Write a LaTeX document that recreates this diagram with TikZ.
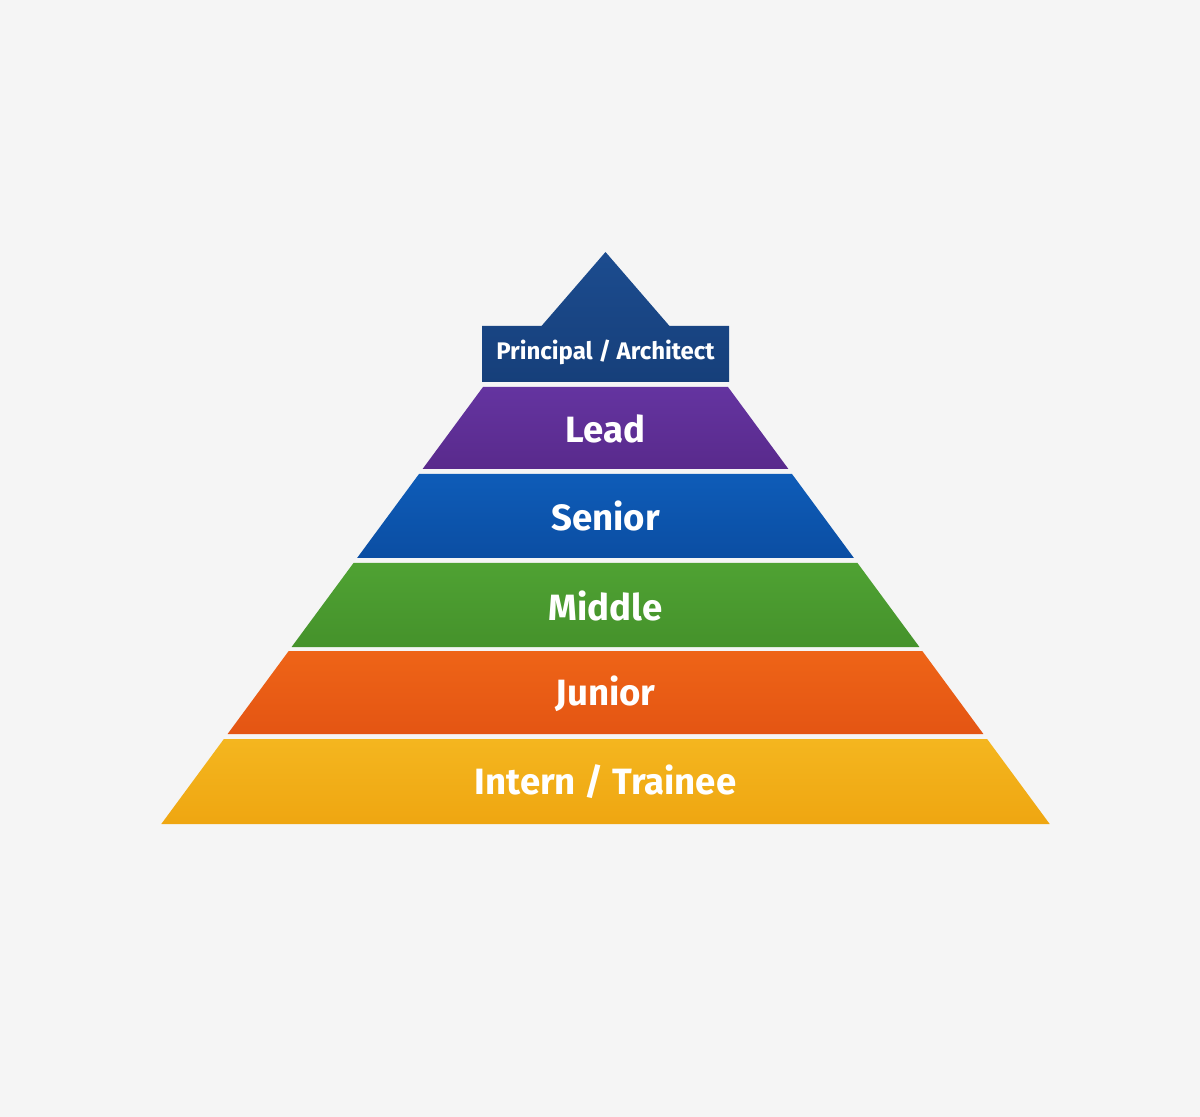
\documentclass[tikz,border=0pt]{standalone}
\usepackage{fontspec}
\setmainfont{Fira Sans}
\definecolor{bg}{HTML}{F5F5F5}
\definecolor{prTop}{HTML}{1C4C8F}\definecolor{prBot}{HTML}{163F7A}
\definecolor{leTop}{HTML}{6434A0}\definecolor{leBot}{HTML}{592A8C}
\definecolor{seTop}{HTML}{0E5CB8}\definecolor{seBot}{HTML}{0B4EA3}
\definecolor{miTop}{HTML}{4FA233}\definecolor{miBot}{HTML}{45922B}
\definecolor{juTop}{HTML}{EE6417}\definecolor{juBot}{HTML}{E45513}
\definecolor{inTop}{HTML}{F4B61F}\definecolor{inBot}{HTML}{EFA611}
\tikzset{
  lbl/.style={text=white, font=\bfseries\fontsize{18.3}{22}\selectfont, inner sep=0pt, anchor=center},
  toplbl/.style={text=white, font=\bfseries\fontsize{12}{15}\selectfont, inner sep=0pt, anchor=center},
}
\begin{document}
\begin{tikzpicture}[x=0.5pt,y=-0.5pt]
\fill[bg] (0,0) rectangle (1200,1117);
\useasboundingbox (0,0) rectangle (1200,1117);
% top: roof + box
\shade[top color=prTop, bottom color=prBot]
  (482,326) -- (541.5,326) -- (605.5,252) -- (669.5,326) -- (729,326) -- (729,382) -- (482,382) -- cycle;
% layers
\shade[top color=leTop, bottom color=leBot] (483,387) -- (728,387) -- (788.4,469) -- (422.6,469) -- cycle;
\shade[top color=seTop, bottom color=seBot] (419,474) -- (792,474) -- (853.9,558) -- (357.1,558) -- cycle;
\shade[top color=miTop, bottom color=miBot] (353.5,563) -- (857.5,563) -- (919.4,647) -- (291.6,647) -- cycle;
\shade[top color=juTop, bottom color=juBot] (288.7,651) -- (922.3,651) -- (983.4,734) -- (227.6,734) -- cycle;
\shade[top color=inTop, bottom color=inBot] (223.9,739) -- (987.1,739) -- (1049.7,824) -- (161.3,824) -- cycle;
% labels
\node[toplbl] (principal) at (605.5,352) {Principal / Architect};
\node[lbl] (lead) at (605.5,429) {Lead};
\node[lbl] (senior) at (605.5,516) {Senior};
\node[lbl] (middle) at (605.5,606) {Middle};
\node[lbl] (junior) at (605.5,694) {Junior};
\node[lbl] (intern) at (605.5,782) {Intern / Trainee};
\end{tikzpicture}
\end{document}
